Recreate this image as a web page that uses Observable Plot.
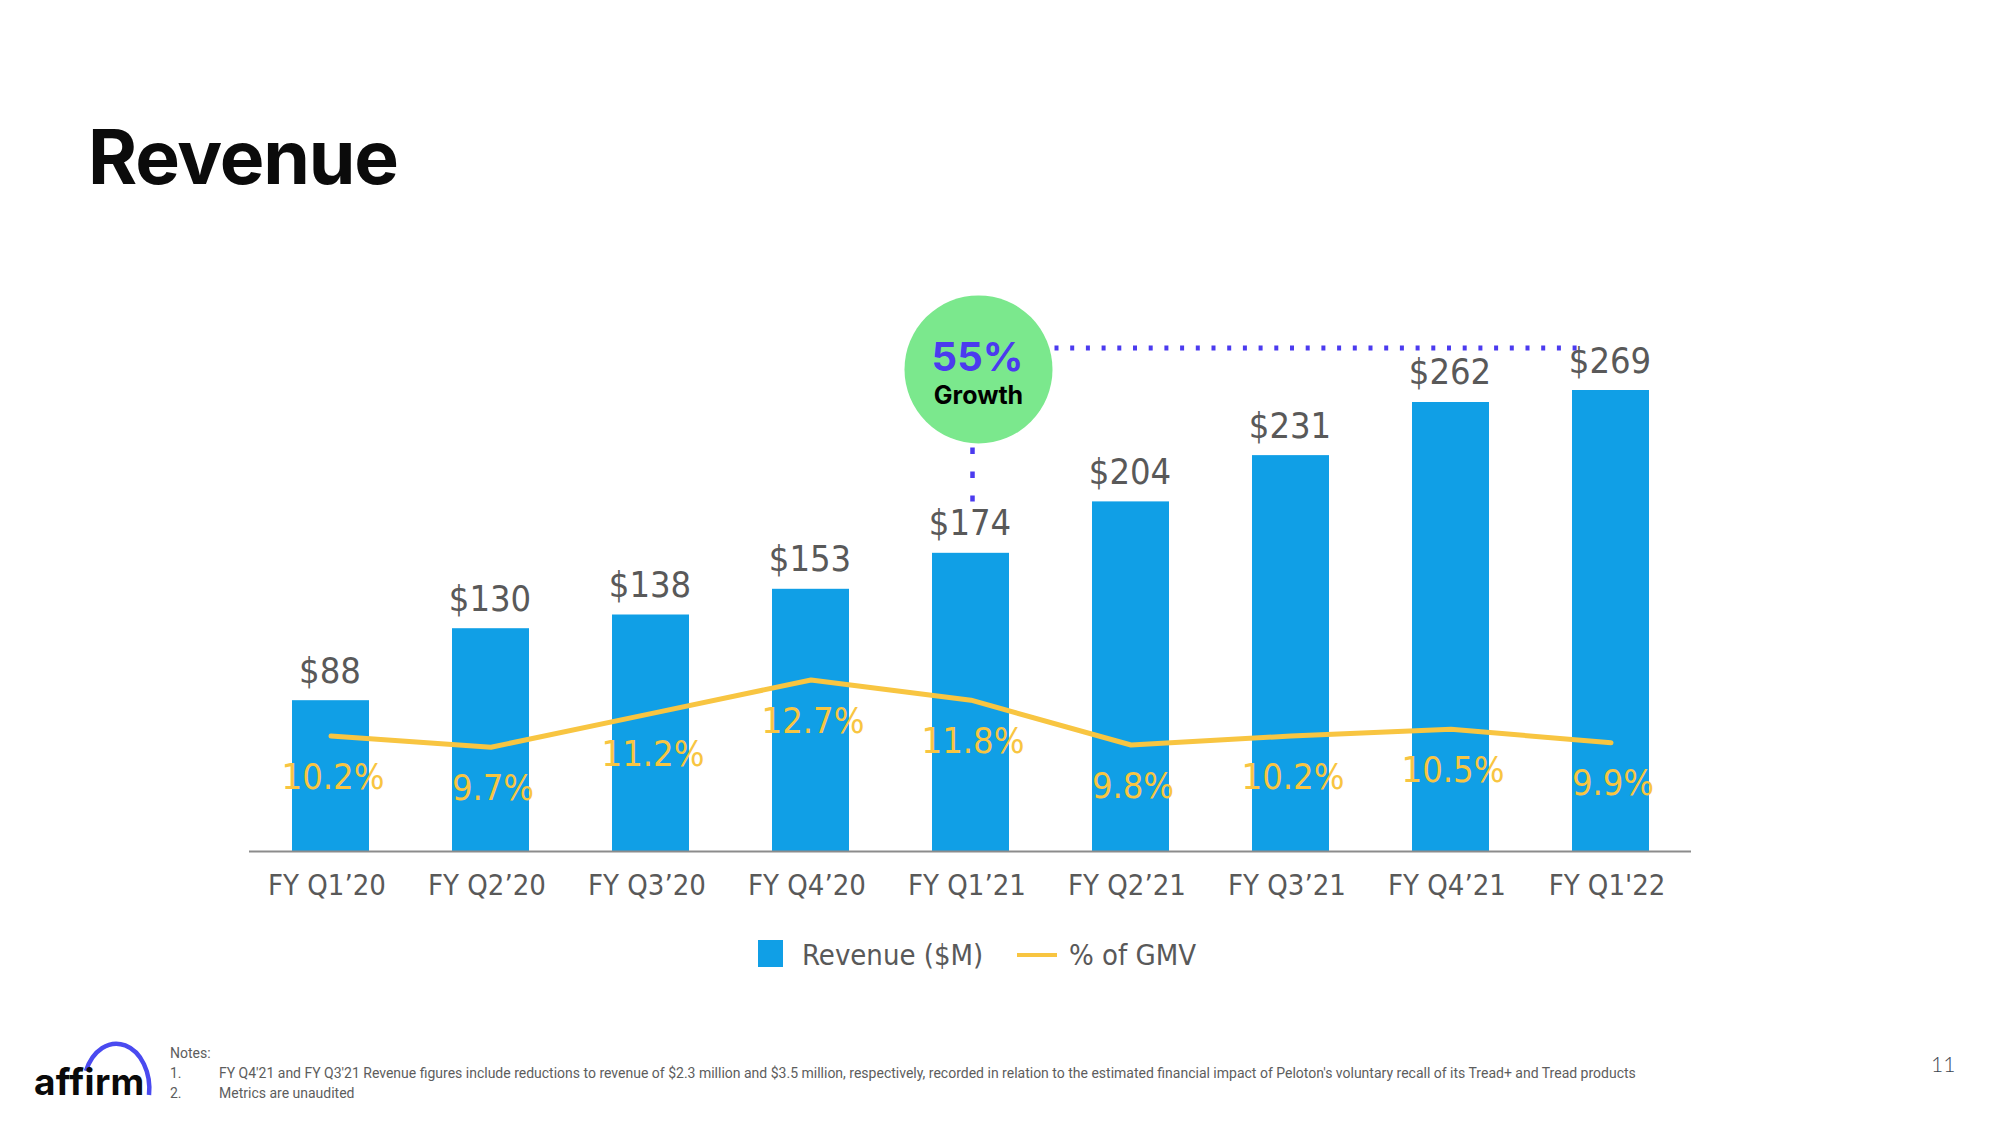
<!DOCTYPE html>
<html><head><meta charset="utf-8">
<script src="https://cdn.jsdelivr.net/npm/d3@7"></script>
<script src="https://cdn.jsdelivr.net/npm/@observablehq/plot@0.6"></script>
<style>
html,body{margin:0;padding:0;background:#fff}
#page{position:relative;width:2000px;height:1125px;overflow:hidden;background:#fff}
.abs{position:absolute;white-space:nowrap}
#title{left:88px;top:119px;font:700 75px/1 Inter,sans-serif;letter-spacing:-1.2px;color:#0b0b0b}
.layer{position:absolute;left:0;top:0}
.leg{font:29px/1 "DejaVu Sans Condensed","DejaVu Sans",sans-serif;color:#595959}
.note{font:14px/1 Roboto,sans-serif;color:#5d5d5d}
</style></head>
<body><div id="page">
<div id="title" class="abs">Revenue</div>
<div id="chart" class="layer"></div>
<div id="chart2" class="layer"></div>
<div class="abs" style="left:758px;top:940px;width:25px;height:27px;background:#109FE6"></div>
<div class="abs leg" style="left:802px;top:941px">Revenue ($M)</div>
<div class="abs" style="left:1017px;top:953px;width:40px;height:4px;background:#F8C541"></div>
<div class="abs leg" style="left:1069px;top:941px">% of GMV</div>
<svg class="abs" style="left:0;top:1030px" width="170" height="90">
  <path d="M86 41 A 33 45 0 0 1 149 65" fill="none" stroke="#4A4AF0" stroke-width="4.5"/>
  <text x="34" y="65" font-family="Inter, sans-serif" font-weight="700" font-size="37" letter-spacing="0.3" fill="#0a0a0a">affirm</text>
</svg>
<div class="abs note" style="left:170px;top:1046px">Notes:</div>
<div class="abs note" style="left:170px;top:1066px">1.</div>
<div class="abs note" style="left:219px;top:1066px">FY Q4'21 and FY Q3'21 Revenue figures include reductions to revenue of $2.3 million and $3.5 million, respectively, recorded in relation to the estimated financial impact of Peloton's voluntary recall of its Tread+ and Tread products</div>
<div class="abs note" style="left:170px;top:1086px">2.</div>
<div class="abs note" style="left:219px;top:1086px">Metrics are unaudited</div>
<div class="abs" style="left:1931px;top:1053px;font:300 21px/1 Lato,sans-serif;color:#3b4450">11</div>
</div>
<script>
// ---- data ----
const quarters = ["FY Q1’20","FY Q2’20","FY Q3’20","FY Q4’20","FY Q1’21","FY Q2’21","FY Q3’21","FY Q4’21","FY Q1'22"];
const revenue = [88,130,138,153,174,204,231,262,269];
const gmvPct = [10.2,9.7,11.2,12.7,11.8,9.8,10.2,10.5,9.9];
const growthLabel = "55%";
const growthSub = "Growth";
const growthFrom = "FY Q1’21";
const growthTo = "FY Q1'22";

const rows = quarters.map((q, i) => ({q, rev: revenue[i], pct: gmvPct[i]}));

const W = 2000, H = 1000;
const common = {
  width: W, height: H, marginLeft: 249, marginRight: 309, marginTop: 0, marginBottom: H - 851,
  style: {background: "transparent", fontFamily: "'DejaVu Sans Condensed', 'DejaVu Sans', sans-serif", overflow: "visible"}
};
const xOpts = {type: "band", domain: quarters, paddingInner: 0.52, paddingOuter: 0.26, label: null};

const main = Plot.plot({
  ...common,
  x: {...xOpts},
  y: {domain: [0, 269], range: [851, 390], axis: null},
  marks: [
    Plot.barY(rows, {x: "q", y: "rev", fill: "#109FE6"}),
    Plot.text(rows, {x: "q", y: "rev", text: d => "$" + d.rev, lineAnchor: "bottom", dy: -18, dx: -1, fontSize: 36, fill: "#595959"}),
    Plot.ruleY([0], {stroke: "#8c8c8c", strokeWidth: 2}),
    Plot.axisX({tickSize: 0, tickPadding: 23, dx: -4, fontSize: 29, color: "#595959", label: null})
  ]
});
document.getElementById("chart").appendChild(main);

const lineChart = Plot.plot({
  ...common,
  x: {...xOpts, axis: null},
  y: {domain: [5.045, 25.625], range: [851, 390], axis: null},
  marks: [
    Plot.line(rows, {x: "q", y: "pct", stroke: "#F8C541", strokeWidth: 5}),
    Plot.text(rows, {x: "q", y: "pct", text: d => d.pct.toFixed(1) + "%", dy: 41, dx: 2, fontSize: 36, fill: "#F8C541"})
  ]
});
document.getElementById("chart2").appendChild(lineChart);

// ---- annotation: growth bubble with dotted connectors ----
const xs = main.scale("x"), ys = main.scale("y");
const cx = xs.apply(growthFrom) + xs.bandwidth / 2 + 8;
const cy = ys.apply(281);
const r = 74;
const svg = d3.select(main);
const g = svg.append("g");
g.append("line")
  .attr("x1", cx + r + 2).attr("x2", xs.apply(growthTo) + xs.bandwidth / 2 - 29)
  .attr("y1", ys.apply(293.5)).attr("y2", ys.apply(293.5))
  .attr("stroke", "#4B3BEF").attr("stroke-width", 5).attr("stroke-dasharray", "4 11.7");
g.append("line")
  .attr("x1", cx - 6).attr("x2", cx - 6)
  .attr("y1", cy + r + 4).attr("y2", ys.apply(204))
  .attr("stroke", "#4B3BEF").attr("stroke-width", 4.5).attr("stroke-dasharray", "6.5 17.5");
g.append("circle").attr("cx", cx).attr("cy", cy).attr("r", r).attr("fill", "#7BE88D");
g.append("text").attr("x", cx - 1).attr("y", cy + 2).attr("text-anchor", "middle")
  .attr("font-family", "Inter, sans-serif").attr("font-weight", 700).attr("font-size", 40)
  .attr("fill", "#4B3BEF").text(growthLabel);
g.append("text").attr("x", cx).attr("y", cy + 35).attr("text-anchor", "middle")
  .attr("font-family", "Inter, sans-serif").attr("font-weight", 700).attr("font-size", 25)
  .attr("fill", "#000").text(growthSub);
</script>
</body></html>
